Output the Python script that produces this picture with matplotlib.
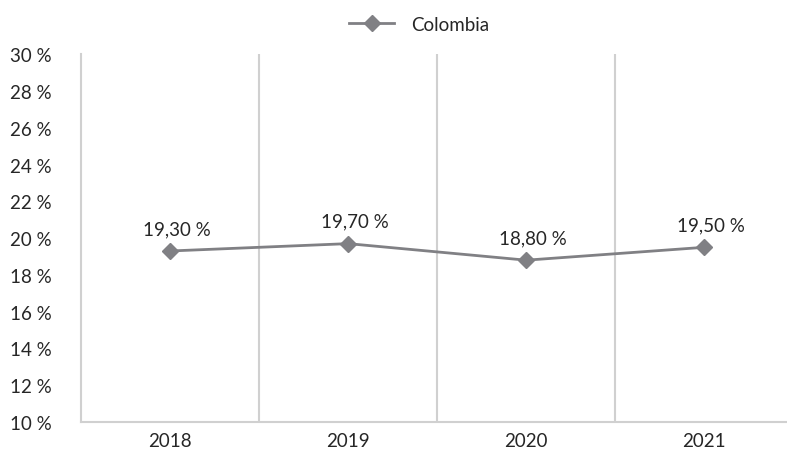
import matplotlib.pyplot as plt
import numpy as np
from matplotlib.ticker import FixedLocator, FuncFormatter

plt.rcParams['font.family'] = ['Lato', 'DejaVu Sans']

years = ["2018", "2019", "2020", "2021"]
colombia = [19.3, 19.7, 18.8, 19.5]
y_ticks = [10, 12, 14, 16, 18, 20, 22, 24, 26, 28, 30]

text_color = "#262626"
line_color = "#808084"
grid_color = "#d0d0d0"
fs = 13.5

fig = plt.figure(figsize=(7.87, 4.52), dpi=100)
ax = fig.add_axes([0.103, 0.064, 0.905, 0.814])

x = np.arange(len(years))
ax.plot(x, colombia, color=line_color, linewidth=2.0, marker="D",
        markersize=8, markerfacecolor=line_color, markeredgecolor=line_color,
        label="Colombia", zorder=3)

for xi, v in zip(x, colombia):
    ax.annotate(f"{v:.2f}".replace(".", ",") + " %", (xi, v),
                xytext=(5, 10), textcoords="offset points",
                ha="center", va="bottom", fontsize=fs, color=text_color)

ax.set_xlim(-0.5, len(years) - 0.5)
ax.set_ylim(10, 30)
ax.set_yticks(y_ticks)
ax.yaxis.set_major_formatter(FuncFormatter(lambda v, p: f"{v:.0f} %"))
ax.set_xticks(x)
ax.set_xticklabels(years)

# separators between categories
ax.xaxis.set_minor_locator(FixedLocator(x[:-1] + 0.5))
ax.grid(which="minor", axis="x", color=grid_color, linewidth=1.5)
ax.grid(which="major", visible=False)

ax.tick_params(axis="both", which="both", length=0, colors=text_color,
               labelsize=fs)
ax.tick_params(axis="y", pad=21)
ax.tick_params(axis="x", pad=7)

for s in ["top", "right"]:
    ax.spines[s].set_visible(False)
for s in ["left", "bottom"]:
    ax.spines[s].set_color(grid_color)
    ax.spines[s].set_linewidth(1.5)

fig.legend(loc="upper center", bbox_to_anchor=(0.533, 1.0), frameon=False,
           fontsize=fs, labelcolor=text_color, handlelength=2.4,
           handletextpad=0.9)

fig.savefig("out.png", dpi=100)
